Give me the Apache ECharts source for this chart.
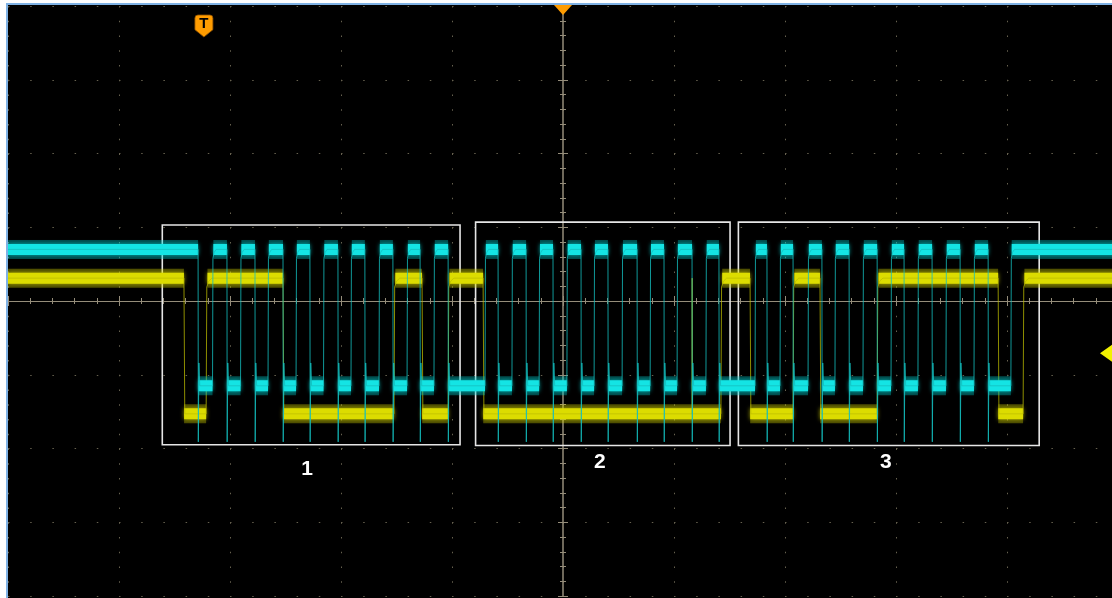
<!DOCTYPE html>
<html>
<head>
<meta charset="utf-8">
<script src="https://cdn.jsdelivr.net/npm/echarts@6/dist/echarts.min.js"></script>
<style>
  html, body { margin: 0; padding: 0; background: #ffffff; width: 1112px; height: 598px; overflow: hidden; }
  #scope { position: absolute; left: 6px; top: 3px; width: 1104px; height: 593px;
           border-left: 2px solid #7fb2e5; border-top: 2px solid #7fb2e5; background: #000; }
</style>
</head>
<body>
<div id="scope"></div>
<script>
// Horizontal axis: time in microseconds (40 us/div); vertical axis: screen divisions.
const timeRange = [-200, 200];
const divRange = [-4, 4];

// SCL (cyan) edge times, us
const sclRise = [-126.3, -116.2, -106.3, -96.2, -86.3, -76.4, -66.3, -56.2, -46.5,
                 -28.1, -18.4, -8.6, 1.4, 11.2, 21.3, 31.4, 41.1, 51.5,
                 69.2, 78.2, 88.3, 98.0, 108.1, 118.2, 127.9, 138.0, 148.1, 161.4];
const sclFall = [-131.5, -121.1, -111.0, -100.9, -91.2, -81.1, -71.4, -61.3, -51.5, -41.4,
                 -23.4, -13.3, -3.6, 6.5, 16.2, 26.7, 36.4, 46.5, 56.2,
                 73.5, 82.9, 93.3, 103.1, 113.2, 122.9, 133.0, 143.1, 153.2];

// SDA (yellow) edge times, us
const sdaRise = [-128.6, -60.9, -41.4, 56.9, 82.9, 113.2, 165.8];
const sdaFall = [-136.6, -100.9, -50.8, -28.8, 67.4, 92.6, 156.8];
const sdaGlitch = [46.5];

// Logic levels in divisions: [high, low]
const sclLevel = [0.70, -1.15];
const sdaLevel = [0.31, -1.53];
// SCL falling-edge ringing: [undershoot, rebound]
const sclRinging = [-1.91, -0.84];

// Byte frames drawn around the transfer
const frameNames = ['1', '2', '3'];
const frameStart = [-144.4, -31.5, 63.2];
const frameEnd = [-37.1, 60.2, 171.6];
const frameTop = [1.03, 1.07, 1.07];
const frameBottom = [-1.95, -1.96, -1.96];

// Trigger position (us) and channel 1 trigger level (div)
const triggerTime = [-129.4];
const ch1TriggerLevel = [-0.71];

// Turns edge lists into a thin trace (edges) and a plateau band (flat levels)
function buildTrace(rises, falls, level, ringing, glitches, rc) {
  const hi = level[0], lo = level[1];
  const events = rises.map(t => ({ t: t, kind: 'up' }))
    .concat(falls.map(t => ({ t: t, kind: 'down' })))
    .concat((glitches || []).map(t => ({ t: t, kind: 'glitch' })))
    .sort((a, b) => a.t - b.t);
  const line = [[timeRange[0], hi]];
  const band = [[timeRange[0], hi]];
  let state = hi;
  events.forEach(e => {
    const t = e.t;
    if (e.kind === 'glitch') {
      line.push([t, state], [t + 0.05, hi], [t + 0.12, state]);
    } else if (e.kind === 'up') {
      line.push([t, lo], [t + 0.15 * rc, hi - 0.12], [t + 0.6 * rc, hi - 0.04], [t + 1.3 * rc, hi]);
      band.push([t, lo], [t, '-'], [t + 0.3 * rc, hi]);
      state = hi;
    } else {
      if (ringing) line.push([t, hi], [t + 0.08, ringing[0]], [t + 0.3, ringing[1]], [t + 0.6, lo]);
      else line.push([t, hi], [t + 0.3, lo]);
      band.push([t, hi], [t, '-'], [t + 0.05, lo]);
      state = lo;
    }
  });
  line.push([timeRange[1], state]);
  band.push([timeRange[1], state]);
  return { line: line, band: band };
}

const scl = buildTrace(sclRise, sclFall, sclLevel, sclRinging, null, 1);
const sda = buildTrace(sdaRise, sdaFall, sdaLevel, null, sdaGlitch, 1.6);

const gridColor = '#66614f';
const centerColor = '#958d7a';

function traceSeries(data, lineStyle) {
  return {
    type: 'line', data: data, xAxisIndex: 0, yAxisIndex: 0,
    showSymbol: false, symbol: 'none', silent: true, connectNulls: false,
    animation: false,
    lineStyle: Object.assign({ cap: 'butt', join: 'miter' }, lineStyle)
  };
}

const frames = frameNames.map((name, i) => [
  { name: name, coord: [frameStart[i], frameTop[i]],
    label: i === 0 ? { distance: 13, offset: [-4, 0] } : { offset: [-3, 0] } },
  { coord: [frameEnd[i], frameBottom[i]] }
]);

const chart = echarts.init(document.getElementById('scope'), null, { width: 1104, height: 593, renderer: 'canvas' });

chart.setOption({
  backgroundColor: '#000',
  animation: false,
  grid: { left: 0, top: 1, width: 1110, height: 590, containLabel: false, outerBoundsMode: 'none' },
  xAxis: [
    {
      type: 'value', min: timeRange[0], max: timeRange[1], interval: 40, position: 'bottom',
      axisLine: { show: true, onZero: true, lineStyle: { color: centerColor, width: 1.2 } },
      axisTick: { show: true, length: 5, lineStyle: { color: centerColor } },
      minorTick: { show: true, splitNumber: 5, length: 3, lineStyle: { color: centerColor } },
      axisLabel: { show: false },
      splitLine: { show: true, lineStyle: { color: gridColor, width: 1, type: [1.5, 13.25] } }
    },
    {
      type: 'value', min: timeRange[0], max: timeRange[1], interval: 40, position: 'top',
      axisLine: { show: false, onZero: true },
      axisTick: { show: true, length: 5, lineStyle: { color: centerColor } },
      minorTick: { show: true, splitNumber: 5, length: 3, lineStyle: { color: centerColor } },
      axisLabel: { show: false },
      splitLine: { show: false }
    }
  ],
  yAxis: [
    {
      type: 'value', min: divRange[0], max: divRange[1], interval: 1, position: 'left',
      axisLine: { show: true, onZero: true, lineStyle: { color: centerColor, width: 1.5 } },
      axisTick: { show: true, length: 5, lineStyle: { color: centerColor } },
      minorTick: { show: true, splitNumber: 5, length: 3, lineStyle: { color: centerColor } },
      axisLabel: { show: false },
      splitLine: { show: true, lineStyle: { color: gridColor, width: 1, type: [1.5, 20.7] } }
    },
    {
      type: 'value', min: divRange[0], max: divRange[1], interval: 1, position: 'right',
      axisLine: { show: false, onZero: true },
      axisTick: { show: true, length: 5, lineStyle: { color: centerColor } },
      minorTick: { show: true, splitNumber: 5, length: 3, lineStyle: { color: centerColor } },
      axisLabel: { show: false },
      splitLine: { show: false }
    }
  ],
  series: [
    // SDA, channel 1 (yellow)
    traceSeries(sda.band, { width: 19, color: 'rgba(215,215,0,0.34)' }),
    traceSeries(sda.band, { width: 11, color: '#dcdc00', shadowBlur: 4, shadowColor: 'rgba(220,220,0,0.7)' }),
    traceSeries(sda.line, { width: 1, color: 'rgba(190,190,0,0.75)' }),
    // SCL, channel 2 (cyan)
    traceSeries(scl.band, { width: 19, color: 'rgba(0,210,210,0.34)' }),
    traceSeries(scl.band, { width: 11, color: '#14e4e4', shadowBlur: 4, shadowColor: 'rgba(0,220,220,0.7)' }),
    traceSeries(scl.line, { width: 1, color: 'rgba(20,190,190,0.8)' }),
    // Frames and screen markers
    {
      type: 'line', data: [], xAxisIndex: 0, yAxisIndex: 0, z: 10, silent: true,
      markArea: {
        silent: true,
        itemStyle: { color: 'rgba(0,0,0,0)', borderColor: '#e6e6e6', borderWidth: 1.6 },
        label: { show: true, position: 'bottom', distance: 5, color: '#ffffff',
                 fontSize: 21, fontWeight: 'bold', fontFamily: 'Liberation Sans, Arial, sans-serif',
                 formatter: '{b}' },
        data: frames
      },
      markPoint: {
        silent: true, animation: false,
        data: [
          { name: 'T', coord: [triggerTime[0], divRange[1]], symbol: 'path://M3,0 H15 Q18,0 18,3 V14 L9,21 L0,14 V3 Q0,0 3,0 Z',
            symbolSize: [18, 22], symbolOffset: [0, 20],
            itemStyle: { color: '#ff9c00', borderColor: '#8a4d00', borderWidth: 0.8 },
            label: { show: true, formatter: 'T', color: '#000', fontWeight: 'bold', fontSize: 15,
                     fontFamily: 'Liberation Sans, Arial, sans-serif', offset: [0, -2] } },
          { name: 'pos', coord: [0, divRange[1]], symbol: 'triangle', symbolRotate: 180,
            symbolSize: [18, 10], symbolOffset: [0, 4],
            itemStyle: { color: '#ff9c00' }, label: { show: false } },
          { name: 'lvl', coord: [timeRange[1], ch1TriggerLevel[0]], symbol: 'triangle', symbolRotate: 90,
            symbolSize: [17, 12], symbolOffset: [-12, 0],
            itemStyle: { color: '#f2f200' }, label: { show: false } }
        ]
      }
    }
  ]
});
</script>
</body>
</html>
